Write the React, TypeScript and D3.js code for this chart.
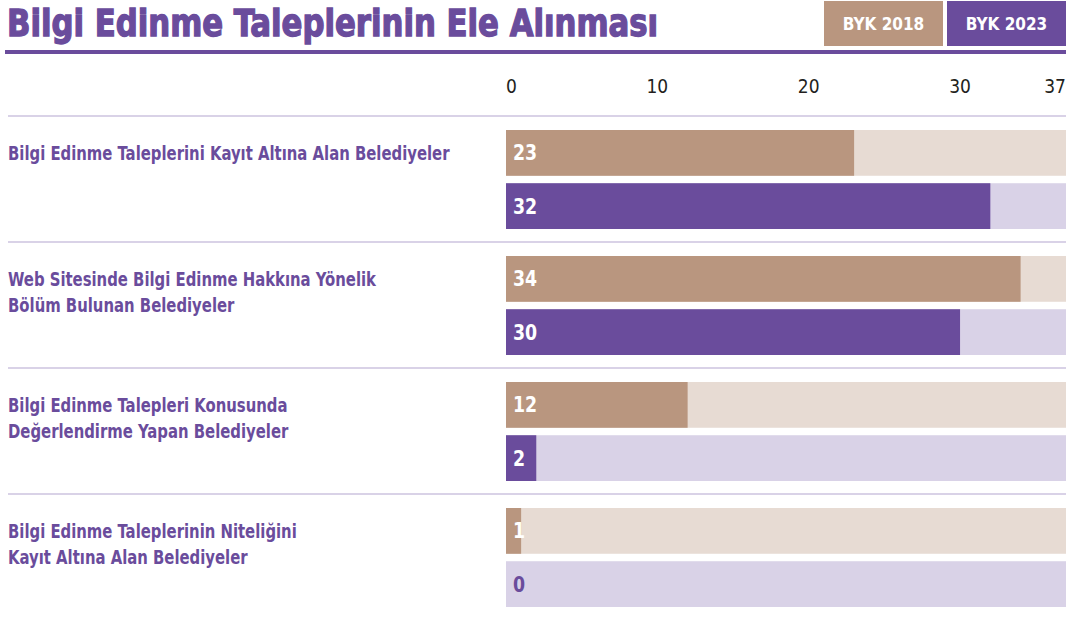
import React from "react";
import * as d3 from "d3";

const categories = [
  ["Bilgi Edinme Taleplerini Kayıt Altına Alan Belediyeler"],
  ["Web Sitesinde Bilgi Edinme Hakkına Yönelik", "Bölüm Bulunan Belediyeler"],
  ["Bilgi Edinme Talepleri Konusunda", "Değerlendirme Yapan Belediyeler"],
  ["Bilgi Edinme Taleplerinin Niteliğini", "Kayıt Altına Alan Belediyeler"],
];
const byk2018 = [23, 34, 12, 1];
const byk2023 = [32, 30, 2, 0];
const tickValues = [0, 10, 20, 30, 37];
const seriesNames = ["BYK 2018", "BYK 2023"];

const PURPLE = "#6a4c9c";
const PURPLE_LIGHT = "#d9d2e7";
const TAN = "#b9967f";
const TAN_LIGHT = "#e7dbd3";
const FONT = "'Liberation Sans Narrow', 'DejaVu Sans Condensed', 'Liberation Sans', sans-serif";

const W = 1074;
const H = 619;

export default function App() {
  const x = d3.scaleLinear().domain([0, 37]).range([506, 1066]);
  const group = d3
    .scaleBand<number>()
    .domain(d3.range(categories.length))
    .range([116, 620]);
  const inner = d3.scaleBand<number>().domain([0, 1]).range([14, 113]).paddingInner(0.14);

  const series = [
    { name: seriesNames[0], values: byk2018, fill: TAN, bg: TAN_LIGHT },
    { name: seriesNames[1], values: byk2023, fill: PURPLE, bg: PURPLE_LIGHT },
  ];

  return (
    <svg
      width={W}
      height={H}
      style={{ position: "absolute", left: 0, top: 0, fontFamily: FONT }}
    >
      <rect width={W} height={H} fill="#fff" />
      {/* title, squeezed to the narrow face of the original */}
      <text
        transform="translate(7,36) scale(0.9,1)"
        fill={PURPLE}
        stroke={PURPLE}
        strokeWidth={1.3}
        fontSize={38}
        fontWeight="bold"
      >
        Bilgi Edinme Taleplerinin Ele Alınması
      </text>
      <rect x={5} y={50} width={1061} height={4} fill={PURPLE} />

      {/* legend */}
      {series.map((s, i) => (
        <g key={s.name} transform={`translate(${824 + i * 123},1)`}>
          <rect width={119} height={45} fill={s.fill} />
          <text x={59.5} y={29} textAnchor="middle" fill="#fff" fontSize={17} fontWeight="bold">
            {s.name}
          </text>
        </g>
      ))}

      {/* axis ticks */}
      {tickValues.map((t, i) => (
        <text
          key={t}
          x={x(t)}
          y={93}
          textAnchor={i === 0 ? "start" : i === tickValues.length - 1 ? "end" : "middle"}
          fill="#231f20"
          fontSize={19}
        >
          {t}
        </text>
      ))}

      {categories.map((lines, gi) => {
        const gy = group(gi)!;
        return (
          <g key={gi}>
            <rect x={8} y={gy - 1} width={1058} height={2} fill={PURPLE_LIGHT} />
            {lines.map((ln, li) => (
              <text
                key={li}
                transform={`translate(8,${gy + 44 + li * 26}) scale(0.87,1)`}
                fill={PURPLE}
                fontSize={19}
                fontWeight="bold"
              >
                {ln}
              </text>
            ))}
            {series.map((s, si) => {
              const by = gy + inner(si)!;
              const bh = inner.bandwidth();
              const v = s.values[gi];
              return (
                <g key={si}>
                  <rect x={x(0)} y={by} width={x(37) - x(0)} height={bh} fill={s.bg} />
                  <rect x={x(0)} y={by} width={x(v) - x(0)} height={bh} fill={s.fill} />
                  <text
                    transform={`translate(${x(0) + 7},${by + bh / 2 + 7.5}) scale(0.92,1)`}
                    fill={v === 0 ? PURPLE : "#fff"}
                    fontSize={21}
                    fontWeight="bold"
                  >
                    {v}
                  </text>
                </g>
              );
            })}
          </g>
        );
      })}
    </svg>
  );
}
